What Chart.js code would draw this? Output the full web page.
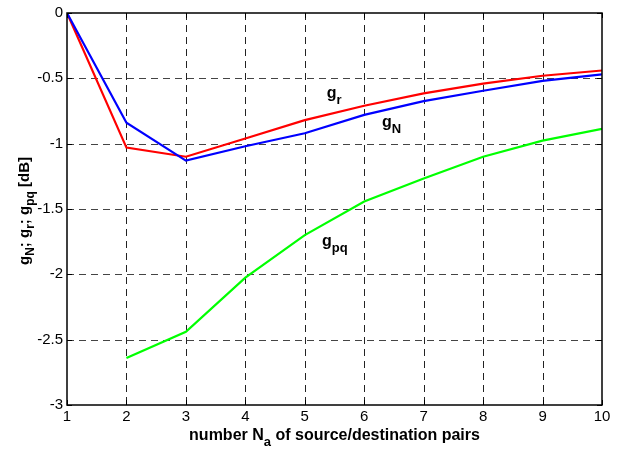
<!DOCTYPE html>
<html lang="en">
<head>
    <meta charset="UTF-8">
    <title>g_N, g_r, g_pq vs number of pairs</title>
    <script src="https://cdn.jsdelivr.net/npm/chart.js"></script>
    <style>
        html, body { margin: 0; padding: 0; background: #fff; }
        #wrap { width: 632px; height: 450px; }
    </style>
</head>
<body>
    <div id="wrap"><canvas id="plot" width="632" height="450"></canvas></div>

    <script>
        // number of source/destination pairs
        const pairs = [1, 2, 3, 4, 5, 6, 7, 8, 9, 10];
        // gains in dB
        const gR  = [0, -1.03, -1.10, -0.96, -0.82, -0.71, -0.615, -0.54, -0.48, -0.44];
        const gN  = [0, -0.84, -1.13, -1.02, -0.92, -0.78, -0.675, -0.595, -0.52, -0.47];
        const gPQ = [null, -2.64, -2.44, -2.025, -1.70, -1.443, -1.266, -1.10, -0.977, -0.886];

        const yTicks = [0, -0.5, -1, -1.5, -2, -2.5, -3];

        // curve labels: [main, subscript, x, y] in data units
        const curveLabels = [
            ['g', 'r', 5.37, -0.653],
            ['g', 'N', 6.30, -0.873],
            ['g', 'pq', 5.29, -1.784]
        ];

        const FONT = '"Liberation Sans", Arial, sans-serif';

        function pts(vals) {
            return pairs.map((n, i) => ({ x: n, y: vals[i] }));
        }

        // draws pieces [text, isSub] left to right starting at x
        function drawPieces(ctx, pieces, x, y, size) {
            let cx = x;
            pieces.forEach(p => {
                const s = p[1] ? Math.round(size * 0.8) : size;
                ctx.font = 'bold ' + s + 'px ' + FONT;
                ctx.fillText(p[0], cx, p[1] ? y + size * 0.35 : y);
                cx += ctx.measureText(p[0]).width;
            });
            return cx - x;
        }

        function piecesWidth(ctx, pieces, size) {
            let w = 0;
            pieces.forEach(p => {
                const s = p[1] ? Math.round(size * 0.8) : size;
                ctx.font = 'bold ' + s + 'px ' + FONT;
                w += ctx.measureText(p[0]).width;
            });
            return w;
        }

        function line(ctx, x1, y1, x2, y2) {
            ctx.beginPath();
            ctx.moveTo(x1, y1);
            ctx.lineTo(x2, y2);
            ctx.stroke();
        }

        // dashed grid, drawn under the curves
        const dashedGrid = {
            id: 'dashedGrid',
            beforeDatasetsDraw(chart) {
                const ctx = chart.ctx;
                const a = chart.chartArea;
                const xs = chart.scales.x, ys = chart.scales.y;
                ctx.save();
                ctx.lineWidth = 1;
                ctx.setLineDash([7, 5]);
                ctx.strokeStyle = '#222';
                pairs.slice(1, -1).forEach(n => {
                    const px = Math.round(xs.getPixelForValue(n)) + 0.5;
                    line(ctx, px, a.top, px, a.bottom);
                });
                ctx.strokeStyle = '#444';
                yTicks.slice(1, -1).forEach(v => {
                    const py = Math.round(ys.getPixelForValue(v)) + 0.5;
                    line(ctx, a.left, py, a.right, py);
                });
                ctx.restore();
            }
        };

        const decorations = {
            id: 'decorations',
            afterDraw(chart) {
                const ctx = chart.ctx;
                const a = chart.chartArea;
                const xs = chart.scales.x, ys = chart.scales.y;
                ctx.save();

                // box and inside ticks
                ctx.strokeStyle = '#000';
                ctx.lineWidth = 1.5;
                ctx.setLineDash([]);
                ctx.strokeRect(a.left, a.top, a.right - a.left, a.bottom - a.top);
                ctx.lineWidth = 1;
                pairs.forEach(n => {
                    const px = Math.round(xs.getPixelForValue(n)) + 0.5;
                    line(ctx, px, a.bottom, px, a.bottom - 5);
                    line(ctx, px, a.top, px, a.top + 5);
                });
                yTicks.forEach(v => {
                    const py = Math.round(ys.getPixelForValue(v)) + 0.5;
                    line(ctx, a.left, py, a.left + 5, py);
                    line(ctx, a.right, py, a.right - 5, py);
                });

                ctx.fillStyle = '#000';
                ctx.textBaseline = 'alphabetic';
                ctx.textAlign = 'left';

                // curve labels
                curveLabels.forEach(l => {
                    drawPieces(ctx, [[l[0], false], [l[1], true]], xs.getPixelForValue(l[2]), ys.getPixelForValue(l[3]), 16);
                });

                // x axis title
                const xt = [['number N', false], ['a', true], [' of source/destination pairs', false]];
                const xw = piecesWidth(ctx, xt, 16);
                drawPieces(ctx, xt, (a.left + a.right) / 2 - xw / 2, 440, 16);

                // y axis title
                const yt = [['g', false], ['N', true], ['; g', false], ['r', true], ['; g', false], ['pq', true], [' [dB]', false]];
                const yw = piecesWidth(ctx, yt, 15);
                ctx.translate(29, (a.top + a.bottom) / 2 + 2);
                ctx.rotate(-Math.PI / 2);
                drawPieces(ctx, yt, -yw / 2, 0, 15);

                ctx.restore();
            }
        };

        const ds = (label, vals, color) => ({
            label: label,
            data: pts(vals),
            borderColor: color,
            backgroundColor: color,
            borderWidth: 2.2,
            pointRadius: 0,
            tension: 0,
            fill: false
        });

        const ctx = document.getElementById('plot').getContext('2d');
        new Chart(ctx, {
            type: 'line',
            data: {
                datasets: [
                    ds('g_pq', gPQ, '#00ff00'),
                    ds('g_N', gN, '#0000ff'),
                    ds('g_r', gR, '#ff0000')
                ]
            },
            options: {
                responsive: false,
                animation: false,
                layout: { padding: { left: 0, top: 10, right: 30, bottom: 0 } },
                plugins: { legend: { display: false }, tooltip: { enabled: false } },
                scales: {
                    x: {
                        type: 'linear',
                        min: 1,
                        max: 10,
                        afterFit: s => { s.height = 45; },
                        ticks: {
                            stepSize: 1,
                            color: '#000',
                            padding: 3,
                            font: { family: FONT, size: 15 }
                        },
                        grid: { display: false, drawTicks: false },
                        border: { display: false }
                    },
                    y: {
                        type: 'linear',
                        min: -3,
                        max: 0,
                        afterFit: s => { s.width = 67; },
                        afterBuildTicks: s => { s.ticks = yTicks.map(v => ({ value: v })); },
                        ticks: {
                            color: '#000',
                            padding: 4,
                            font: { family: FONT, size: 15 },
                            callback: v => String(v)
                        },
                        grid: { display: false, drawTicks: false },
                        border: { display: false }
                    }
                }
            },
            plugins: [dashedGrid, decorations]
        });
    </script>
</body>
</html>
